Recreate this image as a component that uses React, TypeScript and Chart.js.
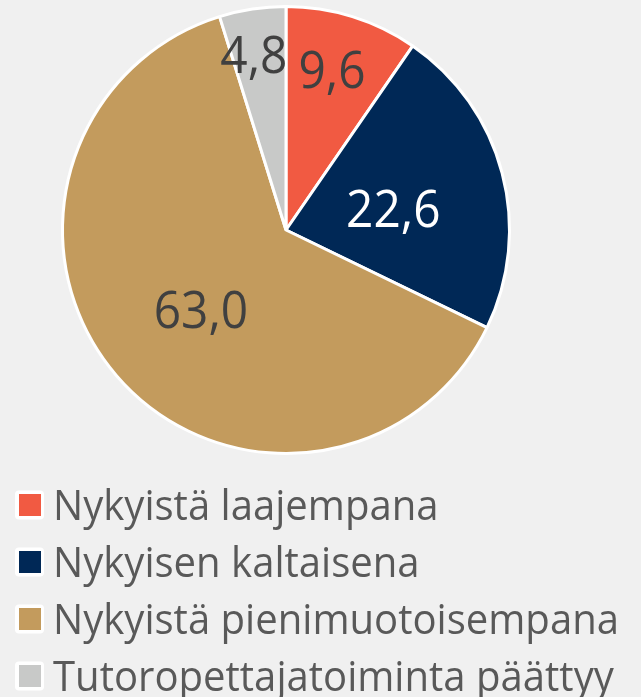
import { useEffect, useRef } from 'react';
import { Chart, registerables } from 'chart.js';

Chart.register(...registerables);

const categories = [
  'Nykyistä laajempana',
  'Nykyisen kaltaisena',
  'Nykyistä pienimuotoisempana',
  'Tutoropettajatoiminta päättyy',
];
const values = [9.6, 22.6, 63.0, 4.8];
const valueLabels = ['9,6', '22,6', '63,0', '4,8'];
const colors = ['#F15A42', '#002856', '#C39B5D', '#C8C9C8'];
const labelColors = ['#404040', '#FFFFFF', '#404040', '#404040'];
const labelRadii = [0.747, 0.49, 0.52, 0.8];
const labelAngleShift = [-1.3, 3.2, -2.3, -1.7];

const FONT = '"Open Sans", "Noto Sans", sans-serif';
const BG = '#F0F0F0';

const bgPlugin = {
  id: 'bg',
  beforeDraw(chart: any) {
    const { ctx, width, height } = chart;
    ctx.save();
    ctx.fillStyle = BG;
    ctx.fillRect(0, 0, width, height);
    ctx.restore();
  },
};

const valueLabelPlugin = {
  id: 'valueLabels',
  afterDatasetsDraw(chart: any) {
    const { ctx } = chart;
    const meta = chart.getDatasetMeta(0);
    const fs = 52;
    const sx = 0.92;
    ctx.save();
    ctx.font = `${fs}px ${FONT}`;
    ctx.textAlign = 'center';
    ctx.textBaseline = 'alphabetic';
    meta.data.forEach((arc: any, i: number) => {
      const { x, y, startAngle, endAngle, outerRadius } = arc.getProps(
        ['x', 'y', 'startAngle', 'endAngle', 'outerRadius'],
        true
      );
      const mid = (startAngle + endAngle) / 2 + (labelAngleShift[i] * Math.PI) / 180;
      const r = outerRadius * labelRadii[i];
      const px = x + Math.cos(mid) * r;
      const py = y + Math.sin(mid) * r;
      ctx.save();
      ctx.translate(px, py + fs * 0.357);
      ctx.scale(sx, 1);
      ctx.fillStyle = labelColors[i];
      ctx.fillText(valueLabels[i], 0, 0);
      ctx.restore();
    });
    ctx.restore();
  },
};

const legendPlugin = {
  id: 'customLegend',
  afterDraw(chart: any) {
    const { ctx } = chart;
    const fs = 42;
    const startY = 505;
    const step = 57;
    ctx.save();
    ctx.font = `${fs}px ${FONT}`;
    ctx.textAlign = 'left';
    ctx.textBaseline = 'alphabetic';
    const refW = ctx.measureText(categories[2]).width;
    const sx = Math.min(1, 566 / refW);
    categories.forEach((label, i) => {
      const cy = startY + i * step;
      ctx.fillStyle = '#FFFFFF';
      ctx.beginPath();
      (ctx as any).roundRect(15, cy - 14.5, 29, 29, 4);
      ctx.fill();
      ctx.fillStyle = colors[i];
      ctx.fillRect(19, cy - 11, 22, 22);
      ctx.save();
      ctx.translate(53, cy + fs * 0.357);
      ctx.scale(sx, 1);
      ctx.fillStyle = '#595959';
      ctx.fillText(label, 0, 0);
      ctx.restore();
    });
    ctx.restore();
  },
};

export default function App() {
  const ref = useRef<HTMLCanvasElement | null>(null);

  useEffect(() => {
    document.body.style.margin = '0';
    document.body.style.background = BG;
    if (!ref.current) return;
    const chart = new Chart(ref.current, {
      type: 'pie',
      data: {
        labels: categories,
        datasets: [
          {
            data: values,
            backgroundColor: colors,
            borderColor: '#FFFFFF',
            borderWidth: 3,
          },
        ],
      },
      options: {
        responsive: false,
        animation: false,
        layout: { padding: { left: 61, right: 130, top: 5, bottom: 242 } },
        plugins: {
          legend: { display: false },
          tooltip: { enabled: false },
        },
      },
      plugins: [bgPlugin, valueLabelPlugin, legendPlugin],
    });
    return () => chart.destroy();
  }, []);

  return (
    <div style={{ width: 641, height: 697, background: BG }}>
      <canvas ref={ref} width={641} height={697} style={{ display: 'block' }} />
    </div>
  );
}
